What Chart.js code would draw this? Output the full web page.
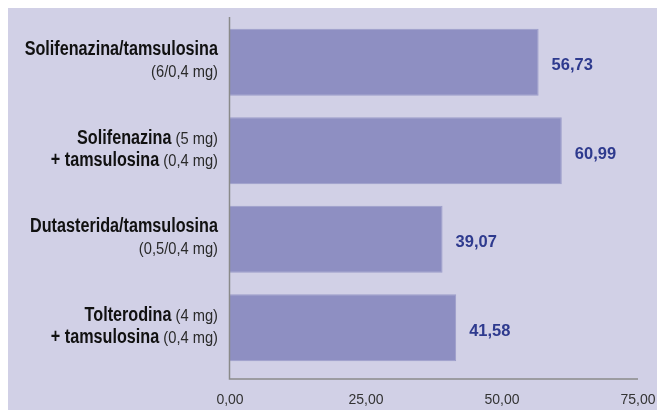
<!DOCTYPE html>
<html><head><meta charset="utf-8">
<script src="https://cdn.jsdelivr.net/npm/chart.js@4/dist/chart.umd.min.js"></script>
<style>html,body{margin:0;padding:0;background:#fff}#wrap{width:657px;height:410px}</style>
</head><body><div id="wrap"><canvas id="c" width="657" height="410"></canvas></div>
<script>
const categories = ["Solifenazina/tamsulosina (6/0,4 mg)", "Solifenazina (5 mg) + tamsulosina (0,4 mg)", "Dutasterida/tamsulosina (0,5/0,4 mg)", "Tolterodina (4 mg) + tamsulosina (0,4 mg)"];
const labelLine1Bold = ["Solifenazina/tamsulosina", "Solifenazina", "Dutasterida/tamsulosina", "Tolterodina"];
const labelLine1Normal = ["", " (5 mg)", "", " (4 mg)"];
const labelLine2Bold = ["", "+ tamsulosina", "", "+ tamsulosina"];
const labelLine2Normal = ["(6/0,4 mg)", " (0,4 mg)", "(0,5/0,4 mg)", " (0,4 mg)"];
const values = [56.73, 60.99, 39.07, 41.58];
const xTicks = [0, 25, 50, 75];

const BG = '#d1d0e6';
const BAR = '#8e8fc2';
const VAL = '#2e3a8e';
const AXIS = '#8a8a8a';
const FONT = '"Liberation Sans", Arial, sans-serif';

const fmt = v => v.toFixed(2).replace('.', ',');

const deco = {
  id: 'deco',
  beforeDraw(chart) {
    const ctx = chart.ctx;
    ctx.save();
    ctx.fillStyle = '#ffffff';
    ctx.fillRect(0, 0, chart.width, chart.height);
    ctx.fillStyle = BG;
    ctx.fillRect(8, 8, chart.width - 8, chart.height - 8);
    ctx.restore();
  },
  afterDatasetsDraw(chart) {
    const ctx = chart.ctx;
    const a = chart.chartArea;
    const ys = chart.scales.y;
    ctx.save();
    ctx.strokeStyle = AXIS;
    ctx.lineWidth = 1.5;
    ctx.beginPath();
    ctx.moveTo(a.left - 0.5, a.top - 1);
    ctx.lineTo(a.left - 0.5, a.bottom + 7);
    ctx.lineTo(a.right, a.bottom + 7);
    ctx.stroke();
    const meta = chart.getDatasetMeta(0);
    ctx.fillStyle = VAL;
    ctx.textBaseline = 'alphabetic';
    ctx.textAlign = 'left';
    meta.data.forEach((bar, i) => {
      ctx.save();
      ctx.font = 'bold 17px ' + FONT;
      ctx.translate(bar.x + 13, bar.y + 8);
      ctx.scale(0.97, 1);
      ctx.fillText(fmt(values[i]), 0, 0);
      ctx.restore();
    });
    const xr = a.left - 12;
    const boldF = 'bold 19.5px ' + FONT, boldS = 0.83;
    const normF = '16.5px ' + FONT, normS = 0.89;
    const drawScaled = (t, f, s, x, y, col) => {
      ctx.save();
      ctx.font = f; ctx.fillStyle = col;
      ctx.translate(x, y); ctx.scale(s, 1);
      ctx.fillText(t, 0, 0);
      ctx.restore();
    };
    const drawLine = (b, n, y) => {
      ctx.font = boldF; const wb = ctx.measureText(b).width * boldS;
      ctx.font = normF; const wn = ctx.measureText(n).width * normS;
      const x = xr - wb - wn;
      drawScaled(b, boldF, boldS, x, y, '#111111');
      drawScaled(n, normF, normS, x + wb, y, '#2a2a2a');
    };
    categories.forEach((c, i) => {
      const yc = ys.getPixelForTick(i);
      drawLine(labelLine1Bold[i], labelLine1Normal[i], yc - 7);
      drawLine(labelLine2Bold[i], labelLine2Normal[i], yc + 15);
    });
    ctx.restore();
  }
};

new Chart(document.getElementById('c'), {
  type: 'bar',
  data: {
    labels: categories,
    datasets: [{
      data: values,
      backgroundColor: BAR,
      borderColor: '#9c9dca',
      borderWidth: 1,
      categoryPercentage: 1,
      barPercentage: 0.757
    }]
  },
  options: {
    indexAxis: 'y',
    responsive: false,
    animation: false,
    devicePixelRatio: 1,
    layout: { padding: { top: 18, right: 19, left: 0, bottom: 0 } },
    plugins: { legend: { display: false }, tooltip: { enabled: false } },
    scales: {
      y: {
        type: 'category',
        ticks: { display: false },
        grid: { display: false },
        border: { display: false },
        afterFit: s => { s.width = 230; s.paddingTop = 0; s.paddingBottom = 0; }
      },
      x: {
        type: 'linear',
        min: xTicks[0],
        max: xTicks[xTicks.length - 1],
        afterBuildTicks: s => { s.ticks = xTicks.map(v => ({ value: v })); },
        ticks: {
          callback: v => fmt(v),
          font: { family: FONT, size: 14 },
          color: '#333333',
          padding: 12,
          maxRotation: 0
        },
        grid: { display: false },
        border: { display: false },
        afterFit: s => { s.height = 38; s.paddingLeft = 0; s.paddingRight = 0; }
      }
    }
  },
  plugins: [deco]
});
</script>
</body></html>
